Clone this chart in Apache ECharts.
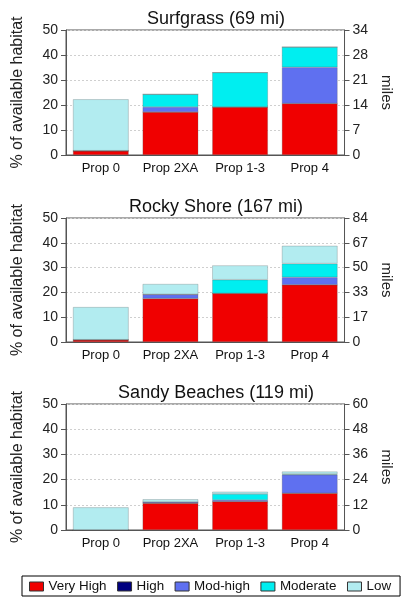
<!DOCTYPE html>
<html><head><meta charset="utf-8">
<script src="https://cdn.jsdelivr.net/npm/echarts@6/dist/echarts.min.js"></script>
<style>html,body{margin:0;padding:0;background:#fff}#c{width:402px;height:598px}</style>
</head><body><div id="c"></div>
<script>
const categories = ['Prop 0', 'Prop 2XA', 'Prop 1-3', 'Prop 4'];
const levels = ['Very High', 'High', 'Mod-high', 'Moderate', 'Low'];
const titles = ['Surfgrass (69 mi)', 'Rocky Shore (167 mi)', 'Sandy Beaches (119 mi)'];
const leftTicks = ['0', '10', '20', '30', '40', '50'];
const surfMiles = ['0', '7', '14', '21', '28', '34'];
const rockyMiles = ['0', '17', '33', '50', '67', '84'];
const sandyMiles = ['0', '12', '24', '36', '48', '60'];

const surfVeryHigh = [1.7, 17.2, 19.2, 20.6];
const surfHigh = [0, 0, 0, 0];
const surfModHigh = [0, 2.0, 0, 14.5];
const surfModerate = [0, 5.1, 13.8, 8.1];
const surfLow = [20.6, 0, 0, 0];

const rockyVeryHigh = [0.9, 17.5, 19.6, 23.1];
const rockyHigh = [0, 0, 0, 0];
const rockyModHigh = [0, 1.7, 0, 3.0];
const rockyModerate = [0, 0, 5.5, 5.5];
const rockyLow = [13.2, 4.2, 5.8, 7.2];

const sandyVeryHigh = [0, 10.6, 11.3, 14.6];
const sandyHigh = [0, 0, 0, 0];
const sandyModHigh = [0, 0.5, 0.6, 7.3];
const sandyModerate = [0, 0, 2.4, 0.3];
const sandyLow = [9.0, 1.1, 0.9, 1.0];

const panels = [
  [surfVeryHigh, surfHigh, surfModHigh, surfModerate, surfLow],
  [rockyVeryHigh, rockyHigh, rockyModHigh, rockyModerate, rockyLow],
  [sandyVeryHigh, sandyHigh, sandyModHigh, sandyModerate, sandyLow]
];
const rightTicks = [surfMiles, rockyMiles, sandyMiles];
const colors = ['#f00000', '#000080', '#5f70f0', '#00eef0', '#b2ecf0'];

const gridTops = [30, 218, 404];
const gridHeights = [125, 124, 126];
const font = 'Liberation Sans, Arial, sans-serif';

const option = {
  animation: false,
  backgroundColor: '#fff',
  title: titles.map((t, i) => ({
    text: t, left: 211, textAlign: 'center', top: gridTops[i] - 25,
    textStyle: {fontFamily: font, fontSize: 18, fontWeight: 'normal', color: '#111'}
  })),
  legend: {
    data: levels, left: 22, top: 576, width: 378,
    orient: 'horizontal',
    borderColor: '#000', borderWidth: 1, borderRadius: 0,
    padding: [4, 9, 3, 7], itemGap: 10.5, itemWidth: 14, itemHeight: 9,
    icon: 'rect',
    itemStyle: {borderColor: '#333', borderWidth: 1},
    textStyle: {fontFamily: font, fontSize: 13.4, color: '#111'}
  },
  grid: gridTops.map((t, i) => ({
    left: 66, right: 45, top: t, height: gridHeights[i],
    show: true, borderColor: '#555', borderWidth: 1
  })),
  xAxis: gridTops.map((t, i) => ({
    type: 'category', gridIndex: i, data: categories,
    axisLine: {lineStyle: {color: '#555'}},
    axisTick: {alignWithLabel: true, length: 5, lineStyle: {color: '#555'}},
    axisLabel: {interval: 0, fontFamily: font, fontSize: 13, color: '#111', margin: 7}
  })),
  yAxis: [],
  series: []
};

gridTops.forEach((t, i) => {
  option.yAxis.push({
    type: 'value', gridIndex: i, min: 0, max: 50, interval: 10, position: 'left',
    name: '% of available habitat', nameLocation: 'middle', nameRotate: 90, nameGap: 40,
    nameTextStyle: {fontFamily: font, fontSize: 16, color: '#222'},
    axisLine: {show: true, lineStyle: {color: '#555'}},
    axisTick: {show: true, length: 5, lineStyle: {color: '#555'}},
    axisLabel: {fontFamily: font, fontSize: 14, color: '#222', margin: 8,
      formatter: v => leftTicks[Math.round(v / 10)]},
    splitLine: {show: true, lineStyle: {color: '#cfcfcf', type: [2, 2], width: 1}}
  });
  option.yAxis.push({
    type: 'value', gridIndex: i, min: 0, max: 50, interval: 10, position: 'right',
    name: 'miles', nameLocation: 'middle', nameRotate: -90, nameGap: 34,
    nameTextStyle: {fontFamily: font, fontSize: 15, color: '#222'},
    axisLine: {show: true, lineStyle: {color: '#555'}},
    axisTick: {show: true, length: 5, lineStyle: {color: '#555'}},
    axisLabel: {fontFamily: font, fontSize: 14, color: '#222', margin: 8,
      formatter: v => rightTicks[i][Math.round(v / 10)]},
    splitLine: {show: false}
  });
  levels.forEach((lv, k) => {
    option.series.push({
      name: lv, type: 'bar', stack: 'p' + i,
      xAxisIndex: i, yAxisIndex: 2 * i,
      data: panels[i][k],
      barWidth: '80%',
      itemStyle: {color: colors[k], borderColor: 'rgba(90,90,90,0.45)', borderWidth: 0.6}
    });
  });
});

const chart = echarts.init(document.getElementById('c'), null, {renderer: 'canvas'});
chart.setOption(option);
</script>
</body></html>
